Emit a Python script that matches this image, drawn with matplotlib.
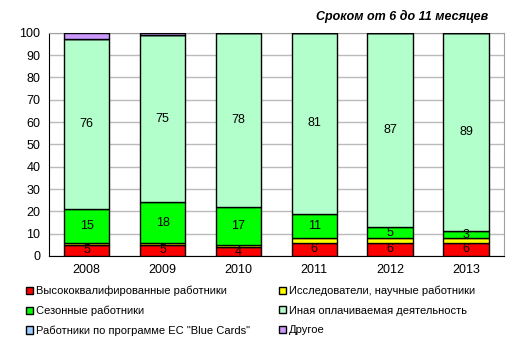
import numpy as np
import matplotlib.pyplot as plt

plt.rcParams['font.family'] = ['Liberation Sans', 'DejaVu Sans']

years = ['2008', '2009', '2010', '2011', '2012', '2013']
high_skilled = [5, 5, 4, 6, 6, 6]
researchers = [1, 1, 1, 2, 2, 2]
seasonal = [15, 18, 17, 11, 5, 3]
other_paid = [76, 75, 78, 81, 87, 89]
blue_cards = [0, 0, 0, 0, 0, 0]
other = [3, 1, 0, 0, 0, 0]

series = [
    ('Высококвалифированные работники', high_skilled, '#FF0000', True),
    ('Исследователи, научные работники', researchers, '#FFFF00', False),
    ('Сезонные работники', seasonal, '#00FF00', True),
    ('Иная оплачиваемая деятельность', other_paid, '#B3FFCC', True),
    ('Работники по программе ЕС "Blue Cards"', blue_cards, '#99CCFF', False),
    ('Другое', other, '#CC99FF', False),
]

fig = plt.figure(figsize=(5.19, 3.45), dpi=100)
ax = fig.add_axes([0.094, 0.258, 0.877, 0.647])

x = np.arange(len(years))
bottom = np.zeros(len(years))
handles = []
for name, vals, color, labelled in series:
    vals = np.array(vals, dtype=float)
    bars = ax.bar(x, vals, 0.6, bottom=bottom, color=color,
                  edgecolor='black', linewidth=1, label=name, zorder=3)
    handles.append(bars)
    if labelled:
        for xi, b, v in zip(x, bottom, vals):
            ax.text(xi, b + v / 2, f'{v:g}', ha='center', va='center',
                    fontsize=9, zorder=4)
    bottom += vals

ax.set_xlim(-0.5, len(years) - 0.5)
ax.set_ylim(0, 100)
ax.set_yticks(range(0, 101, 10))
ax.set_xticks(x)
ax.set_xticklabels(years)
ax.tick_params(axis='both', labelsize=9, length=0, pad=6)
ax.yaxis.grid(True, color='#BBBBBB', linewidth=1, zorder=0)
for side in ['top', 'right']:
    ax.spines[side].set_color('#A0A0A0')
for side in ['left', 'bottom']:
    ax.spines[side].set_color('black')

fig.text(0.94, 0.952, 'Сроком от 6 до 11 месяцев', ha='right', va='center',
         fontsize=9, fontweight='bold', fontstyle='italic')

# legend reads row by row, so reorder for matplotlib's column filling
order = [0, 2, 4, 1, 3, 5]
fig.legend(handles=[handles[i] for i in order], loc='upper left', ncol=2,
           bbox_to_anchor=(0.042, 0.185), frameon=False, fontsize=8,
           handlelength=0.6, handleheight=0.6, handletextpad=0.3,
           columnspacing=2.6, labelspacing=0.85, borderaxespad=0)

fig.savefig('out.png', dpi=100)
